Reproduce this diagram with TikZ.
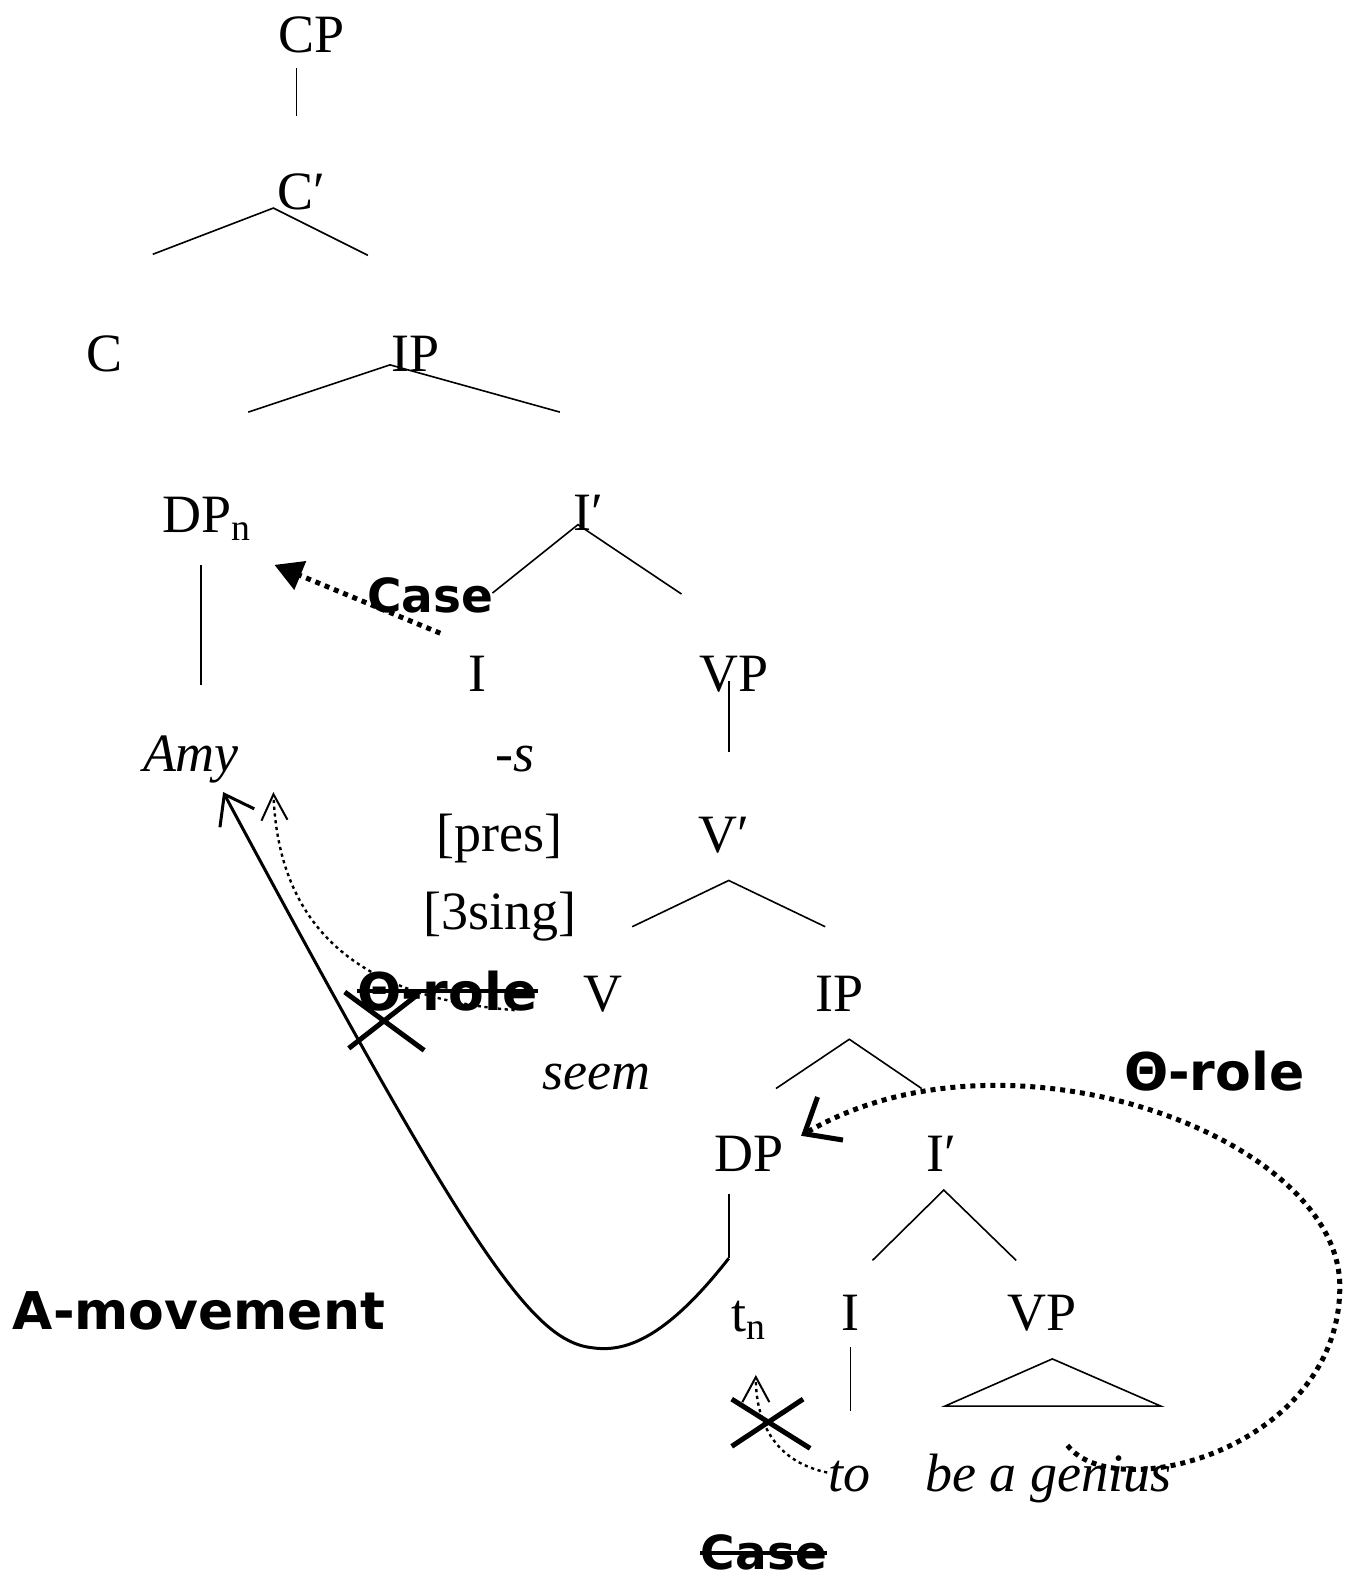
\documentclass[tikz,border=0pt]{standalone}
\usepackage{fontspec}
\setmainfont{Liberation Serif}
\newfontfamily\notefont{DejaVu Sans}
\usetikzlibrary{arrows.meta}

\begin{document}
\begin{tikzpicture}[
 x=0.5026pt,y=-0.5026pt,
 cat/.style={anchor=base,inner sep=0pt,font=\fontsize{27}{32}\selectfont},
 wd/.style={anchor=base,inner sep=0pt,font=\fontsize{27}{32}\selectfont\itshape},
 lbl/.style={anchor=base,inner sep=0pt,font=\fontsize{26}{30}\selectfont\notefont\bfseries},
 smalllbl/.style={lbl,font=\fontsize{23.5}{28}\selectfont\notefont\bfseries},
 br/.style={line width=0.8pt},
 mv/.style={line width=1.5pt,-{Straight Barb[length=13.5pt,width=19.5pt]}},
 thindots/.style={line width=1.2pt,dash pattern=on 1.6pt off 1.8pt},
 fatdots/.style={line width=2.5pt,dash pattern=on 2.5pt off 2.5pt},
 strikeline/.style={line width=2pt},
 xmark/.style={line width=2.5pt}
]
\useasboundingbox (0,0) rectangle (1338,1568);

% categories and words
\node[cat] (CP) at (310,52) {CP};
\node[cat] (Cbar) at (300,208) {C′};
\node[cat] (C) at (104,370) {C};
\node[cat] (IP) at (413,370) {IP};
\node[cat] (DPn) at (206,530) {DP\textsubscript{n}};
\node[cat] (Ibar) at (585,528) {I′};
\node[cat] (I) at (475,688) {I};
\node[cat] (VP) at (730,688) {VP};
\node[wd] (amy) at (190,768) {Amy};
\node[wd] (infl) at (512,768) {-s};
\node[cat] (pres) at (497,847) {[pres]};
\node[cat] (Vbar) at (720,848) {V′};
\node[cat] (sing) at (497,925) {[3sing]};
\node[cat] (V) at (600,1006) {V};
\node[cat] (IPlow) at (835,1006) {IP};
\node[wd] (seem) at (593,1084) {seem};
\node[cat] (DP) at (745,1166) {DP};
\node[cat] (Ibarlow) at (937,1166) {I′};
\node[cat] (tn) at (745,1325) {t\textsubscript{n}};
\node[cat] (Ilow) at (846,1324) {I};
\node[cat] (VPlow) at (1037,1324) {VP};
\node[wd] (to) at (845,1484) {to};
\node[wd] (genius) at (1043,1484) {be a genius};

% labels
\node[smalllbl] (case) at (428,609) {Case};
\node[lbl] (theta) at (445,1005) {Θ-role};
\node[lbl] (thetab) at (1208,1085) {Θ-role};
\node[smalllbl] (caseb) at (760,1562) {Case};
\node[lbl] (amove) at (198,1323) {A-movement};

% branch points
\coordinate (cpS) at (295,68);   \coordinate (cbT) at (295,115);
\coordinate (cbA) at (272,207);  \coordinate (cbL) at (152,253);  \coordinate (cbR) at (366,254);
\coordinate (ipA) at (388,363);  \coordinate (ipL) at (247,410);  \coordinate (ipR) at (557,410);
\coordinate (dpnS) at (200,562); \coordinate (dpnF) at (200,682);
\coordinate (ibA) at (575,522);  \coordinate (ibL) at (490,590);  \coordinate (ibR) at (678,591);
\coordinate (vpS) at (725,678);  \coordinate (vpF) at (725,748);
\coordinate (vbA) at (725,876);  \coordinate (vbL) at (629,922);  \coordinate (vbR) at (821,922);
\coordinate (iplA) at (845,1034); \coordinate (iplL) at (772,1083); \coordinate (iplR) at (917,1083);
\coordinate (dpS) at (725,1188); \coordinate (dpF) at (725,1252);
\coordinate (iblA) at (939,1184); \coordinate (iblL) at (868,1254); \coordinate (iblR) at (1011,1254);
\coordinate (ilS) at (846,1340); \coordinate (ilF) at (846,1404);
\coordinate (triT) at (1047,1352); \coordinate (triL) at (940,1399); \coordinate (triR) at (1155,1399);

\draw[br] (cpS) -- (cbT);
\draw[br] (cbL) -- (cbA) -- (cbR);
\draw[br] (ipL) -- (ipA) -- (ipR);
\draw[br] (dpnS) -- (dpnF);
\draw[br] (ibL) -- (ibA) -- (ibR);
\draw[br] (vpS) -- (vpF);
\draw[br] (vbL) -- (vbA) -- (vbR);
\draw[br] (iplL) -- (iplA) -- (iplR);
\draw[br] (dpS) -- (dpF);
\draw[br] (iblL) -- (iblA) -- (iblR);
\draw[br] (ilS) -- (ilF);
\draw[br] (triT) -- (triL) -- (triR) -- cycle;

% arrows
\coordinate (caseT) at (438,630);  \coordinate (caseH) at (273,562);
\coordinate (amyH) at (222,788);   \coordinate (amyH2) at (272,788);
\coordinate (thetaT) at (512,1005);
\coordinate (dpH) at (797,1130);   \coordinate (genT) at (1062,1438);
\coordinate (toT) at (823,1465);   \coordinate (tnH) at (752,1368);

\draw[fatdots,-{Triangle[length=14pt,width=15pt]}] (caseT) -- (caseH);
\draw[mv] (dpF) .. controls (660,1335) and (620,1345) .. (590,1341)
  .. controls (530,1335) and (470,1250) .. (amyH);
\draw[thindots,-{Straight Barb[length=13pt,width=13pt,line width=1pt]}]
  (thetaT) .. controls (385,995) and (278,945) .. (amyH2);
\draw[fatdots,-{Straight Barb[length=15pt,width=25pt]}]
  (genT) .. controls (1110,1500) and (1333,1440) .. (1333,1280)
  .. controls (1333,1130) and (1000,1010) .. (dpH);
\draw[thindots,-{Straight Barb[length=12.5pt,width=13.5pt,line width=1pt]}]
  (toT) .. controls (775,1455) and (752,1420) .. (tnH);

% strike-outs
\draw[strikeline] (theta.west) -- (theta.east);
\draw[strikeline] (caseb.west) -- (caseb.east);
\draw[xmark] (343,987) -- (422,1045) (347,1043) -- (415,990);
\draw[xmark] (728,1392) -- (806,1441) (728,1439) -- (799,1392);
\end{tikzpicture}
\end{document}
